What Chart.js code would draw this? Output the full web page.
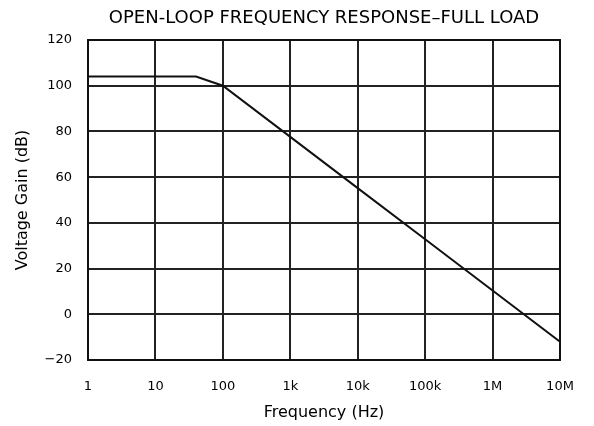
<!DOCTYPE html>
<html>
<head>
<meta charset="utf-8">
<script src="https://cdn.jsdelivr.net/npm/chart.js@4/dist/chart.umd.min.js"></script>
<style>
  html, body { margin: 0; padding: 0; background: #ffffff; }
  #wrap { width: 594px; height: 426px; position: relative; }
</style>
</head>
<body>
<div id="wrap"><canvas id="c" width="594" height="426"></canvas></div>
<script>
// ---- data ----
const freqsHz = [1, 40, 100, 1000, 10000, 100000, 1000000, 10000000];
const gainDb = [104, 104, 100, 77.6, 55.2, 32.8, 10.4, -12];
const xTickValues = [1, 10, 100, 1000, 10000, 100000, 1000000, 10000000];
const xTickLabels = ['1', '10', '100', '1k', '10k', '100k', '1M', '10M'];
const yTickValues = [-20, 0, 20, 40, 60, 80, 100, 120];

const titleText = 'OPEN-LOOP FREQUENCY RESPONSE\u2013FULL LOAD';
const xTitle = 'Frequency (Hz)';
const yTitle = 'Voltage Gain (dB)';

Chart.defaults.font.family = '"DejaVu Sans", "Liberation Sans", Arial, sans-serif';
Chart.defaults.color = '#000';

const gridColor = '#222';

new Chart(document.getElementById('c'), {
  type: 'line',
  data: {
    datasets: [{
      data: freqsHz.map((f, i) => ({ x: f, y: gainDb[i] })),
      borderColor: '#111',
      borderWidth: 2,
      pointRadius: 0,
      tension: 0,
      fill: false
    }]
  },
  options: {
    responsive: false,
    animation: false,
    devicePixelRatio: 1,
    layout: { padding: { left: 0, right: 34, top: 0, bottom: 0 } },
    plugins: {
      legend: { display: false },
      tooltip: { enabled: false },
      title: {
        display: true,
        fullSize: false,
        text: titleText,
        font: { size: 18, weight: 'normal' },
        color: '#000',
        padding: { top: 7.2, bottom: 11.2 }
      }
    },
    scales: {
      x: {
        type: 'logarithmic',
        min: 1,
        max: 10000000,
        afterBuildTicks: (scale) => { scale.ticks = xTickValues.map(v => ({ value: v })); },
        afterFit: (scale) => { scale.height = 66; },
        ticks: {
          autoSkip: false,
          maxRotation: 0,
          padding: 19,
          font: { size: 13 },
          callback: (value, index) => xTickLabels[index]
        },
        grid: { color: gridColor, lineWidth: 2, drawTicks: false },
        border: { color: '#111', width: 2 },
        title: {
          display: true,
          text: xTitle,
          font: { size: 16 },
          padding: { top: 0, bottom: 3.4 }
        }
      },
      y: {
        type: 'linear',
        min: -20,
        max: 120,
        afterBuildTicks: (scale) => { scale.ticks = yTickValues.map(v => ({ value: v })); },
        afterFit: (scale) => { scale.width = 88; },
        ticks: {
          padding: 16,
          font: { size: 13 },
          callback: (value) => value < 0 ? '\u2212' + Math.abs(value) : String(value)
        },
        grid: { color: gridColor, lineWidth: 2, drawTicks: false },
        border: { color: '#111', width: 2 },
        title: {
          display: true,
          text: yTitle,
          font: { size: 16 },
          padding: { top: 13.4, bottom: 0 }
        }
      }
    }
  },
  plugins: [{
    id: 'rightTopBorder',
    afterDatasetsDraw(chart) {
      const { ctx, chartArea: a } = chart;
      ctx.save();
      ctx.strokeStyle = '#111';
      ctx.lineWidth = 2;
      ctx.strokeRect(Math.round(a.left), Math.round(a.top), Math.round(a.right - a.left), Math.round(a.bottom - a.top));
      ctx.restore();
    }
  }]
});
</script>
</body>
</html>
